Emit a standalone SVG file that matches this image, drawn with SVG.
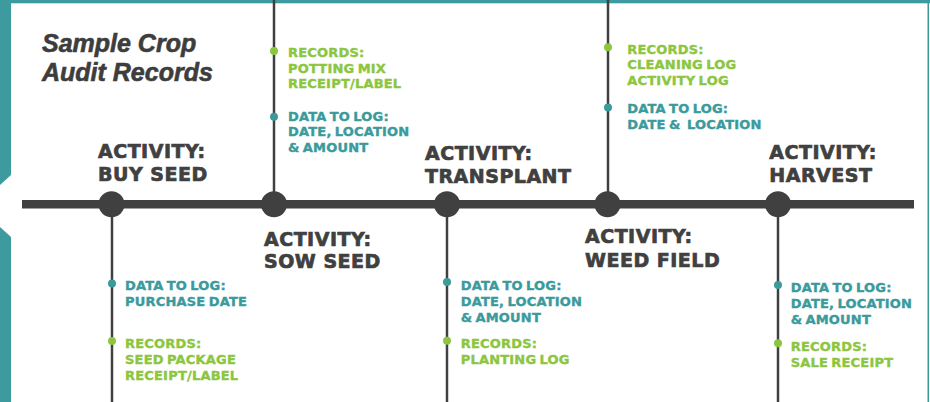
<svg xmlns="http://www.w3.org/2000/svg" width="930" height="402" viewBox="0 0 930 402">
  <style>
    .frame { fill: #3d9a9e; }
    .title { font-family: "Liberation Sans", Arial, sans-serif; font-weight: bold; font-style: italic; font-size: 25px; fill: #3d3d3d; stroke: #3d3d3d; stroke-width: 0.6px; }
    .act { font-family: "DejaVu Sans", "Liberation Sans", sans-serif; font-weight: bold; font-size: 19px; letter-spacing: 0.5px; fill: #404040; stroke: #404040; stroke-width: 0.7px; }
    .det { font-family: "DejaVu Sans", "Liberation Sans", sans-serif; font-weight: bold; font-size: 13px; letter-spacing: 0.2px; word-spacing: -1.5px; white-space: pre; stroke-width: 0.4px; }
    .rec { fill: #8cc63f; stroke: #8cc63f; }
    .log { fill: #3a9a9c; stroke: #3a9a9c; }
    circle.rec, circle.log { stroke: none; }
    .hub { fill: #404040; }
    .stem { stroke: #404040; stroke-width: 2.5; fill: none; }
    .axis { stroke: #404040; stroke-width: 8.5; fill: none; }
  </style>

  <rect width="930" height="402" fill="#ffffff"/>

  <!-- frame: top band, right hairline, notched left strip -->
  <rect class="frame" x="0" y="0" width="930" height="3.3"/>
  <rect class="frame" x="927.5" y="0" width="1.5" height="402"/>
  <polygon class="frame" points="0,0 11,0 11,175 0,185"/>
  <polygon class="frame" points="0,227 11,237 11,402 0,402"/>

  <!-- heading -->
  <g id="heading">
    <text class="title" x="42" y="52">Sample Crop</text>
    <text class="title" x="42" y="81">Audit Records</text>
  </g>

  <!-- timeline axis and stems -->
  <g id="connectors">
    <line class="axis" x1="22" y1="204.3" x2="914" y2="204.3"/>
    <line class="stem" x1="112" y1="204" x2="112" y2="402"/>
    <line class="stem" x1="274" y1="0" x2="274" y2="204"/>
    <line class="stem" x1="447" y1="204" x2="447" y2="402"/>
    <line class="stem" x1="608" y1="0" x2="608" y2="204"/>
    <line class="stem" x1="778" y1="204" x2="778" y2="402"/>
  </g>

  <!-- step 1 -->
  <g id="buy-seed">
    <circle class="hub" cx="111.5" cy="204.3" r="13"/>
    <text class="act" x="98" y="158">ACTIVITY:</text>
    <text class="act" x="98" y="181">BUY SEED</text>
    <circle class="log" cx="112" cy="283.5" r="4"/>
    <text class="det log" x="125" y="289.5">DATA TO LOG:</text>
    <text class="det log" x="125" y="305.7">PURCHASE DATE</text>
    <circle class="rec" cx="112" cy="341" r="4"/>
    <text class="det rec" x="125" y="347.7">RECORDS:</text>
    <text class="det rec" x="125" y="364">SEED PACKAGE</text>
    <text class="det rec" x="125" y="380">RECEIPT/LABEL</text>
  </g>

  <!-- step 2 -->
  <g id="sow-seed">
    <circle class="hub" cx="274" cy="204.3" r="13"/>
    <text class="act" x="264" y="245.7">ACTIVITY:</text>
    <text class="act" x="264" y="268.3">SOW SEED</text>
    <circle class="rec" cx="274" cy="51" r="4"/>
    <text class="det rec" x="288" y="57">RECORDS:</text>
    <text class="det rec" x="288" y="72.7">POTTING MIX</text>
    <text class="det rec" x="288" y="88.3">RECEIPT/LABEL</text>
    <circle class="log" cx="274" cy="116.7" r="4"/>
    <text class="det log" x="288" y="120.7">DATA TO LOG:</text>
    <text class="det log" x="288" y="136.3">DATE, LOCATION</text>
    <text class="det log" x="288" y="152">&amp; AMOUNT</text>
  </g>

  <!-- step 3 -->
  <g id="transplant">
    <circle class="hub" cx="447" cy="204.3" r="13"/>
    <text class="act" x="425" y="160">ACTIVITY:</text>
    <text class="act" x="425" y="182.7">TRANSPLANT</text>
    <circle class="log" cx="447" cy="282" r="4"/>
    <text class="det log" x="460.7" y="290">DATA TO LOG:</text>
    <text class="det log" x="460.7" y="306">DATE, LOCATION</text>
    <text class="det log" x="460.7" y="322.3">&amp; AMOUNT</text>
    <circle class="rec" cx="447" cy="340.7" r="4"/>
    <text class="det rec" x="460.7" y="348.3">RECORDS:</text>
    <text class="det rec" x="460.7" y="364.3">PLANTING LOG</text>
  </g>

  <!-- step 4 -->
  <g id="weed-field">
    <circle class="hub" cx="607.5" cy="204.3" r="13"/>
    <text class="act" x="585" y="243.3">ACTIVITY:</text>
    <text class="act" x="585" y="266.7">WEED FIELD</text>
    <circle class="rec" cx="608" cy="47.3" r="4"/>
    <text class="det rec" x="627.3" y="53.5">RECORDS:</text>
    <text class="det rec" x="627.3" y="69.3">CLEANING LOG</text>
    <text class="det rec" x="627.3" y="85">ACTIVITY LOG</text>
    <circle class="log" cx="608" cy="107.5" r="4"/>
    <text class="det log" x="627.3" y="113">DATA TO LOG:</text>
    <text class="det log" x="627.3" y="128.5" xml:space="preserve">DATE &amp;  LOCATION</text>
  </g>

  <!-- step 5 -->
  <g id="harvest">
    <circle class="hub" cx="778" cy="204.3" r="13"/>
    <text class="act" x="769.3" y="159.3">ACTIVITY:</text>
    <text class="act" x="769.3" y="181.7">HARVEST</text>
    <circle class="log" cx="778" cy="285" r="4"/>
    <text class="det log" x="790.7" y="292.3">DATA TO LOG:</text>
    <text class="det log" x="790.7" y="308.3">DATE, LOCATION</text>
    <text class="det log" x="790.7" y="324.3">&amp; AMOUNT</text>
    <circle class="rec" cx="778" cy="343.3" r="4"/>
    <text class="det rec" x="790.7" y="350.7">RECORDS:</text>
    <text class="det rec" x="790.7" y="366.7">SALE RECEIPT</text>
  </g>
</svg>
